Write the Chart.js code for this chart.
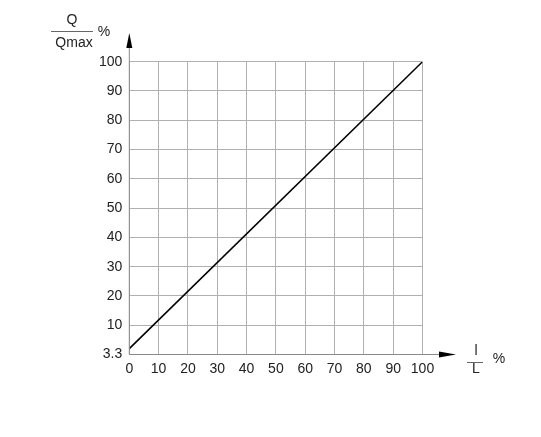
<!DOCTYPE html>
<html>
<head>
<meta charset="utf-8">
<script src="https://cdn.jsdelivr.net/npm/chart.js@4"></script>
<style>
  html, body { margin: 0; padding: 0; background: #fff; }
  #wrap { width: 541px; height: 437px; }
</style>
</head>
<body>
<div id="wrap"><canvas id="flow"></canvas></div>
<script>
// stroke l/L (%) vs flow Q/Qmax (%)
var strokePct = [0, 100];
var flowPct = [2, 100];
var yTickLabels = ["3.3", "10", "20", "30", "40", "50", "60", "70", "80", "90", "100"];
var xTickLabels = ["0", "10", "20", "30", "40", "50", "60", "70", "80", "90", "100"];

var font = "'Liberation Sans', Arial, sans-serif";
var textColor = "#222";
var gridColor = "#b0b0b0";

// axis lines with arrow heads, and the fraction-style axis titles
var axisDeco = {
  id: "axisDeco",
  afterDraw(chart) {
    var ctx = chart.ctx;
    var a = chart.chartArea;
    ctx.save();
    ctx.strokeStyle = "#8a8a8a";
    ctx.lineWidth = 1;
    ctx.beginPath();
    ctx.moveTo(a.left, a.bottom);
    ctx.lineTo(a.left, 46);
    ctx.moveTo(a.left, a.bottom);
    ctx.lineTo(441, a.bottom);
    ctx.stroke();

    ctx.fillStyle = "#000";
    ctx.beginPath();
    ctx.moveTo(a.left, 33);
    ctx.lineTo(a.left - 3, 48);
    ctx.lineTo(a.left + 3, 48);
    ctx.closePath();
    ctx.fill();
    ctx.beginPath();
    ctx.moveTo(456, a.bottom);
    ctx.lineTo(439, a.bottom - 3);
    ctx.lineTo(439, a.bottom + 3);
    ctx.closePath();
    ctx.fill();

    ctx.fillStyle = textColor;
    ctx.font = "14px " + font;
    ctx.textAlign = "center";
    ctx.textBaseline = "middle";
    ctx.fillText("Q", 72, 20);
    ctx.fillText("Qmax", 74, 43);
    ctx.fillText("%", 104, 32);
    ctx.fillText("l", 476, 351);
    ctx.fillText("L", 476, 369);
    ctx.fillText("%", 499, 359);
    ctx.strokeStyle = "#666";
    ctx.beginPath();
    ctx.moveTo(51, 31.5);
    ctx.lineTo(93, 31.5);
    ctx.moveTo(467, 362.5);
    ctx.lineTo(483, 362.5);
    ctx.stroke();
    ctx.restore();
  }
};

new Chart("flow", {
  type: "line",
  data: {
    datasets: [{
      data: strokePct.map(function (v, i) { return {x: v, y: flowPct[i]}; }),
      borderColor: "#000",
      borderWidth: 1.6,
      pointRadius: 0,
      fill: false
    }]
  },
  options: {
    responsive: true,
    maintainAspectRatio: false,
    animation: false,
    layout: { padding: { left: 0, top: 61.7, right: 118.5, bottom: 52.5 } },
    plugins: { legend: { display: false }, tooltip: { enabled: false } },
    scales: {
      x: {
        type: "linear",
        min: 0, max: 100,
        ticks: {
          stepSize: 10,
          padding: 6,
          maxRotation: 0,
          minRotation: 0,
          autoSkip: false,
          color: textColor,
          font: { family: font, size: 14 },
          callback: function (v) { return xTickLabels[Math.round(v / 10)]; }
        },
        grid: { color: gridColor, drawTicks: false },
        border: { display: false },
        afterFit: function (s) { s.height = 30; }
      },
      y: {
        type: "linear",
        min: 0, max: 100,
        ticks: {
          stepSize: 10,
          padding: 7,
          color: textColor,
          font: { family: font, size: 14 },
          callback: function (v) { return yTickLabels[Math.round(v / 10)]; }
        },
        grid: { color: gridColor, drawTicks: false },
        border: { display: false },
        afterFit: function (s) { s.width = 129.3; }
      }
    }
  },
  plugins: [axisDeco]
});
</script>
</body>
</html>
